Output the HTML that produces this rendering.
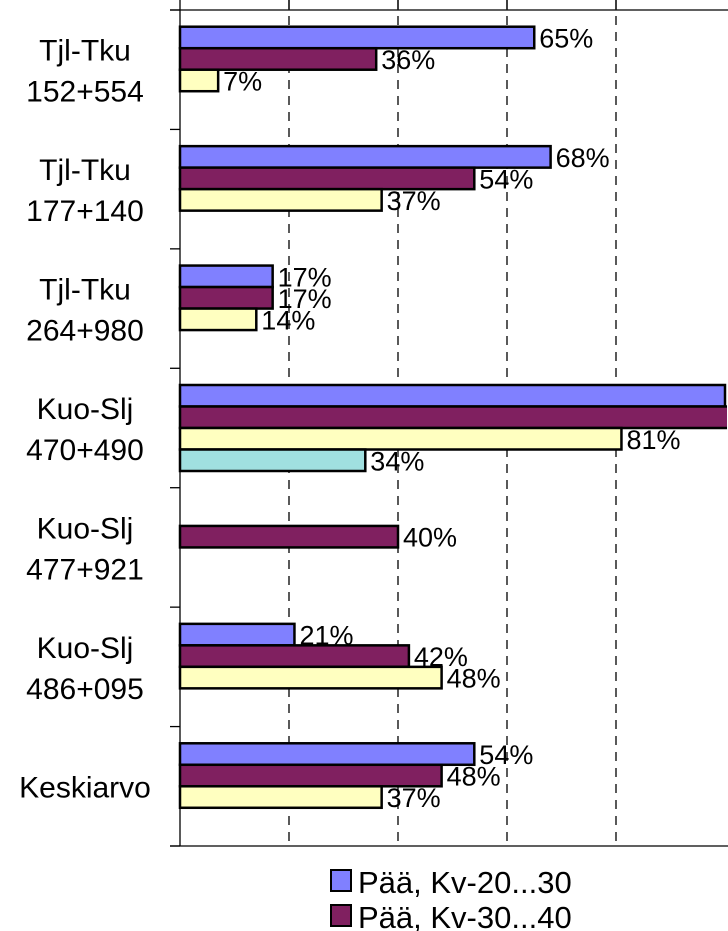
<!DOCTYPE html>
<html><head><meta charset="utf-8"><style>
html,body{margin:0;padding:0;background:#fff;}
svg{display:block;font-family:"Liberation Sans",Arial,sans-serif;}
</style></head><body>
<svg id="chart" width="728" height="931" viewBox="0 0 728 931" xmlns="http://www.w3.org/2000/svg">
<defs><clipPath id="plotclip"><rect x="0" y="0" width="727" height="931"/></clipPath></defs>
<g id="grid"></g>
<g id="bars" clip-path="url(#plotclip)"></g>
<g id="axis"></g>
<g id="legend">
  <rect x="331" y="870" width="20" height="21" fill="#8080ff" stroke="#000" stroke-width="2"/>
  <text x="358" y="893" font-size="31">Pää, Kv-20...30</text>
  <rect x="331" y="905" width="20" height="21" fill="#802060" stroke="#000" stroke-width="2"/>
  <text x="358" y="928" font-size="31">Pää, Kv-30...40</text>
</g>
</svg>
<script>
const categoriesLine1 = ["Tjl-Tku","Tjl-Tku","Tjl-Tku","Kuo-Slj","Kuo-Slj","Kuo-Slj","Keskiarvo"];
const categoriesLine2 = ["152+554","177+140","264+980","470+490","477+921","486+095",""];
const seriesA = [65, 68, 17, 100, null, 21, 54];
const seriesB = [36, 54, 17, 101, 40, 42, 48];
const seriesC = [7, 37, 14, 81, null, 48, 37];
const seriesD = [null, null, null, 34, null, null, null];
const gridTicks = [20, 40, 60, 80];

const NS = "http://www.w3.org/2000/svg";
const x0 = 180, pxPerPct = 5.45, yTopPlot = 10, yBotPlot = 846;
const catH = (yBotPlot - yTopPlot) / categoriesLine1.length;
const barH = 21.5;
const xScale = v => x0 + v * pxPerPct;
const yCat = i => yTopPlot + i * catH;
function mk(tag, attrs){ const e = document.createElementNS(NS, tag); for (const k in attrs) e.setAttribute(k, attrs[k]); return e; }

const gridG = document.getElementById('grid');
gridTicks.forEach(t => {
  const l = mk('line', {x1: xScale(t), x2: xScale(t), y1: 0, y2: yBotPlot, stroke: '#000', 'stroke-width': 1.3, 'stroke-dasharray': '9,7'});
  
  
  gridG.appendChild(l);
  const s = mk('line', {x1: xScale(t), x2: xScale(t), y1: 0, y2: yTopPlot, stroke: '#000', 'stroke-width': 1.3});
  
  
  gridG.appendChild(s);
});

const axisG = document.getElementById('axis');
const topBorder = mk('line', {x1: 170, x2: 728, y1: yTopPlot, y2: yTopPlot, stroke: '#000', 'stroke-width': 1.3});


axisG.appendChild(topBorder);
const botBorder = mk('line', {x1: 170, x2: 728, y1: yBotPlot, y2: yBotPlot, stroke: '#000', 'stroke-width': 1.3});


axisG.appendChild(botBorder);
const axLine = mk('line', {x1: x0, x2: x0, y1: 0, y2: yBotPlot, stroke: '#000', 'stroke-width': 1.3});


axisG.appendChild(axLine);
for (let i = 0; i <= categoriesLine1.length; i++) {
  const t = mk('line', {x1: 170, x2: x0, y1: yCat(i), y2: yCat(i), stroke: '#000', 'stroke-width': 1.3});
  
  
  axisG.appendChild(t);
}
categoriesLine1.forEach((c, i) => {
  const cy = yCat(i) + catH / 2;
  const two = categoriesLine2[i] !== "";
  const t1 = mk('text', {x: 85, y: two ? cy - 9 : cy + 11, 'font-size': 30, 'text-anchor': 'middle'});
  t1.textContent = c;
  
  
  axisG.appendChild(t1);
  if (two) {
    const t2 = mk('text', {x: 85, y: cy + 32, 'font-size': 30, 'text-anchor': 'middle'});
    t2.textContent = categoriesLine2[i];
    
    
    axisG.appendChild(t2);
  }
});

const barsG = document.getElementById('bars');
const allSeries = [seriesA, seriesB, seriesC, seriesD];
const colors = ['#8080ff', '#802060', '#ffffc0', '#a0e0e0'];
const sNames = ['kv20-30', 'kv30-40', 'series-3', 'series-4'];
const offset = (catH - 4 * barH) / 2;
allSeries.forEach((arr, s) => {
  arr.forEach((v, i) => {
    if (v === null) return;
    const y = yCat(i) + offset + s * barH;
    const r = mk('rect', {x: x0, y: y, width: xScale(v) - x0, height: barH, fill: colors[s], stroke: '#000', 'stroke-width': 2.5});
    
    
    barsG.appendChild(r);
  });
});
allSeries.forEach((arr, s) => {
  arr.forEach((v, i) => {
    if (v === null) return;
    const y = yCat(i) + offset + s * barH;
    const lb = mk('text', {x: xScale(v) + 5, y: y + barH / 2 + 10, 'font-size': 27});
    lb.textContent = v + '%';
    
    
    barsG.appendChild(lb);
  });
});
</script>
</body></html>
